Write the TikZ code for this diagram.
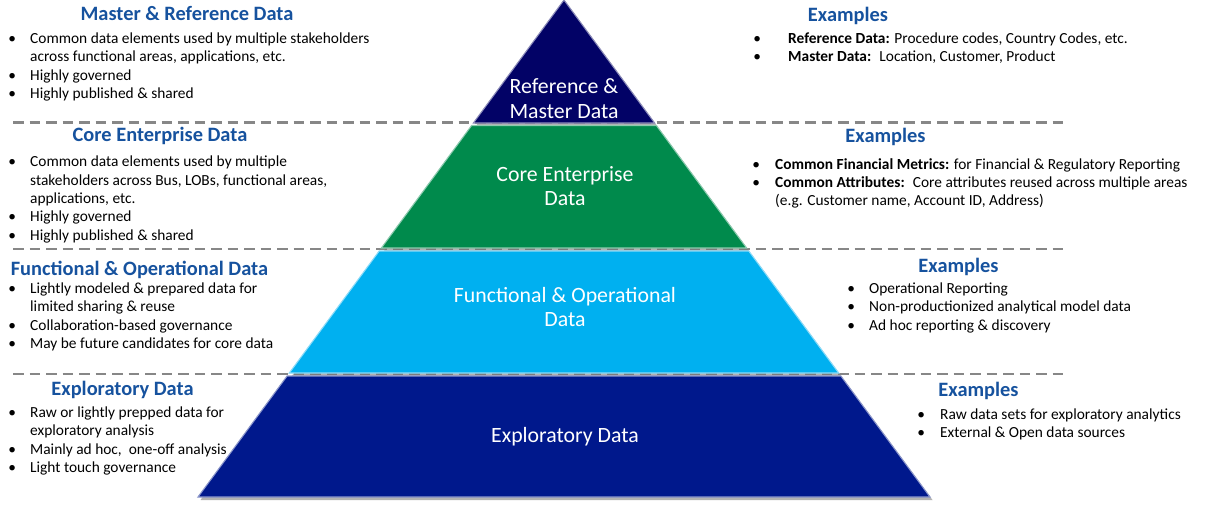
\documentclass[tikz,border=0pt]{standalone}
\usepackage{fontspec}
\setmainfont{Carlito}
\definecolor{headblue}{RGB}{22,82,158}
\definecolor{sepgray}{RGB}{135,135,135}
\definecolor{tiernavy}{RGB}{2,2,102}
\definecolor{tiergreen}{RGB}{0,138,76}
\definecolor{tiersky}{RGB}{0,176,240}
\definecolor{tierblue}{RGB}{0,24,140}
\newlength\bw
\newcommand\bl{\makebox[\bw][l]{•}}
\newcommand\ind{\hspace*{\bw}}
\newcommand\blk[2]{\setlength\bw{#1}\parbox[t]{440pt}{#2}}
\begin{document}
\begin{tikzpicture}[x=1pt,y=-1pt,
  sep/.style={draw=sepgray, line width=2.5pt, dash pattern=on 10.5pt off 6pt},
  head/.style={font=\fontsize{20.4}{24}\selectfont\bfseries, text=headblue, inner sep=0, anchor=base},
  body/.style={font=\fontsize{15.4}{18.4}\selectfont, text=black, inner sep=0, anchor=base west},
  tierlabel/.style={font=\fontsize{21.8}{24.5}\selectfont, text=white, align=center, inner sep=0},
  shade/.style={fill=black!55, opacity=0.55},
  tier/.style={fill=#1, draw=#1!45!white, line width=1.1pt, line join=miter}]
\useasboundingbox (0,0) rectangle (1206,507);

% dashed separators between the layers
\draw[sep] (13,122.5) -- (1066,122.5);
\draw[sep] (13,249) -- (1066,249);
\draw[sep] (13,374) -- (1066,374);

% drop shadows of the pyramid layers
\begin{scope}[shift={(2.5,3)}]
  \fill[shade] (564,0) -- (654.6,123) -- (473.4,123) -- cycle;
  \fill[shade] (471.6,125.5) -- (656.4,125.5) -- (746.6,248) -- (381.4,248) -- cycle;
  \fill[shade] (379.2,251) -- (748.8,251) -- (838.7,373) -- (289.3,373) -- cycle;
  \fill[shade] (287.1,376) -- (840.9,376) -- (930,497) -- (198,497) -- cycle;
\end{scope}

% pyramid layers
\path[tier=tiernavy] (564,0) -- (654.6,123) -- (473.4,123) -- cycle;
\path[tier=tiergreen] (471.6,125.5) -- (656.4,125.5) -- (746.6,248) -- (381.4,248) -- cycle;
\path[tier=tiersky] (379.2,251) -- (748.8,251) -- (838.7,373) -- (289.3,373) -- cycle;
\path[tier=tierblue] (287.1,376) -- (840.9,376) -- (930,497) -- (198,497) -- cycle;

\node[tierlabel] (t1) at (564,98.5) {Reference \&\\Master Data};
\node[tierlabel] (t2) at (565,186) {Core Enterprise\\Data};
\node[tierlabel] (t3) at (565,307) {Functional \& Operational\\Data};
\node[tierlabel] (t4) at (565,437) {Exploratory Data};

% left column: layer descriptions
\node[head] (h1) at (187,20.7) {Master \& Reference Data};
\node[body] (d1) at (8.2,43.3) {\blk{21.8pt}{\bl Common data elements used by multiple stakeholders\\
  \ind across functional areas, applications, etc.\\
  \bl Highly governed\\
  \bl Highly published \& shared}};

\node[head] (h2) at (160,141.7) {Core Enterprise Data};
\node[body] (d2) at (8.2,166.7) {\blk{21.8pt}{\bl Common data elements used by multiple\\
  \ind stakeholders across Bus, LOBs, functional areas,\\
  \ind applications, etc.\\
  \bl Highly governed\\
  \bl Highly published \& shared}};

\node[head] (h3) at (139.5,275) {Functional \& Operational Data};
\node[body] (d3) at (8.2,293.3) {\blk{21.8pt}{\bl Lightly modeled \& prepared data for\\
  \ind limited sharing \& reuse\\
  \bl Collaboration-based governance\\
  \bl May be future candidates for core data}};

\node[head] (h4) at (122.5,395.7) {Exploratory Data};
\node[body] (d4) at (8.2,417.3) {\blk{21.8pt}{\bl Raw or lightly prepped data for\\
  \ind exploratory analysis\\
  \bl Mainly ad hoc,~ one-off analysis\\
  \bl Light touch governance}};

% right column: examples
\node[head] (e1) at (848,21) {Examples};
\node[body] (x1) at (753.2,43.3) {\blk{34.8pt}{\bl \textbf{Reference Data:} Procedure codes, Country Codes, etc.\\
  \bl \textbf{Master Data:}~ Location, Customer, Product}};

\node[head] (e2) at (885.5,142.7) {Examples};
\node[body] (x2) at (752.2,169) {\blk{22.8pt}{\bl \textbf{Common Financial Metrics:} for Financial \& Regulatory Reporting\\
  \bl \textbf{Common Attributes:}~ Core attributes reused across multiple areas\\
  \ind (e.g. Customer name, Account ID, Address)}};

\node[head] (e3) at (958.5,272.7) {Examples};
\node[body] (x3) at (847.2,293.3) {\blk{21.8pt}{\bl Operational Reporting\\
  \bl Non-productionized analytical model data\\
  \bl Ad hoc reporting \& discovery}};

\node[head] (e4) at (978.5,396.7) {Examples};
\node[body] (x4) at (917.2,419) {\blk{22.8pt}{\bl Raw data sets for exploratory analytics\\
  \bl External \& Open data sources}};
\end{tikzpicture}
\end{document}
